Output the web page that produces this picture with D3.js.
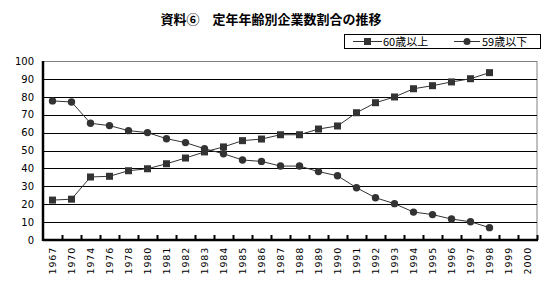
<!DOCTYPE html>
<html>
<head>
<meta charset="utf-8">
<script src="https://cdn.jsdelivr.net/npm/d3@7"></script>
<style>
	body { margin: 0; background: #fff; }
	text { font-family: "DejaVu Sans", sans-serif; }
</style>
</head>
<body>
<div id="chart"></div>
<script>
// DATA
const years = ["1967", "1970", "1974", "1976", "1978", "1980", "1981", "1982", "1983", "1984",
	"1985", "1986", "1987", "1988", "1989", "1990", "1991", "1992", "1993", "1994",
	"1995", "1996", "1997", "1998", "1999", "2000"];
const over60 = [22.3, 22.8, 35.2, 35.6, 38.7, 39.8, 42.6, 45.8, 49.2, 52, 55.5, 56.4, 58.8, 58.8,
	62, 63.7, 71.1, 76.7, 79.9, 84.5, 86.2, 88.3, 90.1, 93.5, null, null];
const under59 = [77.7, 77.1, 65.2, 63.9, 61.1, 60, 56.6, 54.4, 51, 48.2, 44.7, 43.9, 41.3, 41.3,
	38.2, 35.9, 29.2, 23.6, 20.3, 15.6, 14.2, 11.7, 10.2, 6.9, null, null];
const yTicks = [0, 10, 20, 30, 40, 50, 60, 70, 80, 90, 100];
const seriesNames = ["60歳以上", "59歳以下"];

//DIMENSIONS
const width = 545,
	height = 289,
	plotLeft = 43,
	plotRight = 537,
	plotTop = 61,
	plotBottom = 240;

const svg = d3.select("#chart")
	.append("svg")
	.attr("width", width)
	.attr("height", height);

const x = d3.scaleBand().domain(years).range([plotLeft, plotRight]);
const y = d3.scaleLinear().domain([0, 100]).range([plotBottom, plotTop]);

//TITLE
svg.append("text")
	.attr("x", 271)
	.attr("y", 24)
	.attr("text-anchor", "middle")
	.style("font-family", "'Noto Sans CJK JP', sans-serif")
	.style("font-size", "13px")
	.style("font-weight", 700)
	.text("資料⑥　定年年齢別企業数割合の推移");

//PLOT BORDER (gray top/right)
svg.append("rect")
	.attr("x", plotLeft).attr("y", plotTop + 0.5)
	.attr("width", plotRight - plotLeft).attr("height", plotBottom - plotTop)
	.attr("fill", "none")
	.attr("stroke", "#808080")
	.attr("stroke-width", 1);

//GRIDLINES
svg.append("g")
	.selectAll("line")
	.data(yTicks.filter(d => d > 0 && d < 100))
	.enter()
	.append("line")
	.attr("x1", plotLeft).attr("x2", plotRight)
	.attr("y1", d => Math.round(y(d)) + 0.5)
	.attr("y2", d => Math.round(y(d)) + 0.5)
	.attr("stroke", "#000")
	.attr("stroke-width", 1);

//Y AXIS
const yAxis = svg.append("g")
	.attr("transform", `translate(${plotLeft},0)`)
	.call(d3.axisLeft(y).tickValues(yTicks).tickSize(0).tickPadding(9));
yAxis.select(".domain").remove();
yAxis.selectAll("text")
	.style("font-family", "'DejaVu Sans', sans-serif")
	.style("font-size", "10px")
	.attr("fill", "#000");

//X AXIS LABELS
svg.append("g")
	.selectAll("text")
	.data(years)
	.enter()
	.append("text")
	.attr("transform", d => `translate(${x(d) + x.bandwidth() / 2 + 3},247) rotate(-90)`)
	.attr("text-anchor", "end")
	.style("font-size", "9.5px")
	.style("letter-spacing", "0.8px")
	.text(d => d);

//X TICKS between categories
const tickXs = years.slice(1).map(d => x(d)).concat([plotRight]);
svg.append("g")
	.selectAll("line")
	.data(tickXs)
	.enter()
	.append("line")
	.attr("x1", d => d + 0.5)
	.attr("x2", d => d + 0.5)
	.attr("y1", plotBottom)
	.attr("y2", plotBottom - 5)
	.attr("stroke", "#000")
	.attr("stroke-width", 2);

//AXIS LINES
svg.append("line")
	.attr("x1", plotLeft).attr("x2", plotLeft)
	.attr("y1", plotTop).attr("y2", plotBottom + 1)
	.attr("stroke", "#000").attr("stroke-width", 2.5);
svg.append("line")
	.attr("x1", plotLeft).attr("x2", plotRight + 1)
	.attr("y1", plotBottom).attr("y2", plotBottom)
	.attr("stroke", "#000").attr("stroke-width", 2.5);

//LINES
const line = d3.line()
	.defined(d => d.v != null)
	.x(d => x(d.year) + x.bandwidth() / 2)
	.y(d => y(d.v));

const toPts = arr => years.map((year, i) => ({ year, v: arr[i] }));
const markColor = "#333";

[over60, under59].forEach((arr, si) => {
	const pts = toPts(arr);
	svg.append("path")
		.datum(pts)
		.attr("d", line)
		.attr("fill", "none")
		.attr("stroke", markColor)
		.attr("stroke-width", 1);

	const valid = pts.filter(d => d.v != null);
	if (si === 0) {
		svg.append("g").selectAll("rect")
			.data(valid).enter().append("rect")
			.attr("x", d => x(d.year) + x.bandwidth() / 2 - 3.5)
			.attr("y", d => y(d.v) - 3.5)
			.attr("width", 7).attr("height", 7)
			.attr("fill", markColor);
	} else {
		svg.append("g").selectAll("circle")
			.data(valid).enter().append("circle")
			.attr("cx", d => x(d.year) + x.bandwidth() / 2)
			.attr("cy", d => y(d.v))
			.attr("r", 3.7)
			.attr("fill", markColor);
	}
});

//LEGEND
const legend = svg.append("g");
legend.append("rect")
	.attr("x", 344.5).attr("y", 34.5)
	.attr("width", 196).attr("height", 14)
	.attr("fill", "#fff")
	.attr("stroke", "#000").attr("stroke-width", 1);

const legendItems = [
	{ name: seriesNames[0], x1: 353, x2: 382, text: 383 },
	{ name: seriesNames[1], x1: 454, x2: 480, text: 482 }
];
legendItems.forEach((d, i) => {
	const cx = (d.x1 + d.x2) / 2;
	legend.append("line")
		.attr("x1", d.x1).attr("x2", d.x2)
		.attr("y1", 41.5).attr("y2", 41.5)
		.attr("stroke", markColor).attr("stroke-width", 1);
	if (i === 0) {
		legend.append("rect")
			.attr("x", cx - 3.5).attr("y", 38)
			.attr("width", 7).attr("height", 7)
			.attr("fill", markColor);
	} else {
		legend.append("circle")
			.attr("cx", cx).attr("cy", 41.5)
			.attr("r", 3.5)
			.attr("fill", markColor);
	}
	legend.append("text")
		.attr("x", d.text)
		.attr("y", 45.5)
		.style("font-family", "'Noto Sans CJK JP', sans-serif")
		.style("font-size", "11px")
		.text(d.name);
});
</script>
</body>
</html>
